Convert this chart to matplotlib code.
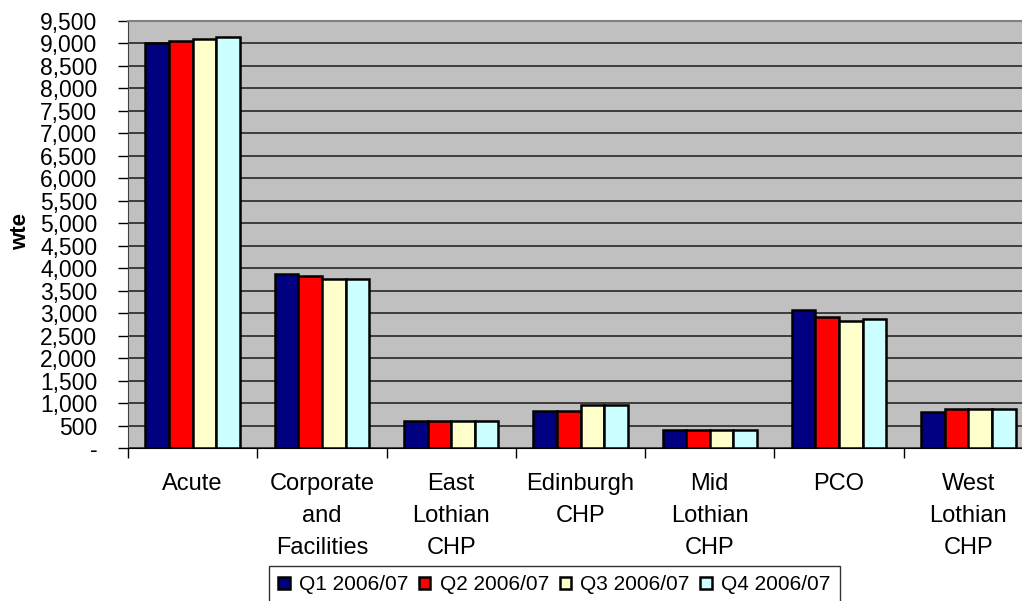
import numpy as np
import matplotlib.pyplot as plt
from matplotlib.ticker import FuncFormatter, MultipleLocator

plt.rcParams['font.family'] = ['Liberation Sans', 'DejaVu Sans']

# data (wte)
categories = ['Acute', 'Corporate\nand\nFacilities', 'East\nLothian\nCHP', 'Edinburgh\nCHP',
              'Mid\nLothian\nCHP', 'PCO', 'West\nLothian\nCHP']
q1 = [9010, 3880, 600, 830, 400, 3060, 790]
q2 = [9055, 3830, 600, 825, 400, 2920, 870]
q3 = [9100, 3770, 600, 965, 400, 2820, 870]
q4 = [9150, 3770, 600, 965, 400, 2870, 870]
series_names = ['Q1 2006/07', 'Q2 2006/07', 'Q3 2006/07', 'Q4 2006/07']
colors = ['#000080', '#FF0000', '#FFFFCC', '#CCFFFF']

fig = plt.figure(figsize=(10.22, 6.01), dpi=100)
ax = fig.add_axes([128/1022, 1 - 448/601, (1033-128)/1022, (448-21)/601])
ax.set_facecolor('#C0C0C0')

x = np.arange(len(categories))
bw = 0.1825
handles = []
for i, vals in enumerate([q1, q2, q3, q4]):
    b = ax.bar(x + (i - 1.5) * bw, vals, bw, color=colors[i], edgecolor='black',
               linewidth=1.8, zorder=3, label=series_names[i])
    handles.append(b)

ax.set_ylim(0, 9500)
ax.set_xlim(-0.5, len(categories) - 0.5)
ax.yaxis.set_major_locator(MultipleLocator(500))
ax.yaxis.set_major_formatter(FuncFormatter(lambda v, p: '-' if v == 0 else '{:,.0f}'.format(v)))
ax.grid(axis='y', color='#1a1a1a', linewidth=1.1, zorder=1)

ax.set_xticks(x)
ax.set_xticklabels(categories, fontsize=17, linespacing=1.6)
ax.set_xticks(np.arange(len(categories) + 1) - 0.5, minor=True)
ax.tick_params(axis='x', which='major', length=0, pad=18)
ax.tick_params(axis='x', which='minor', length=7, width=1, direction='out', color='black')
ax.tick_params(axis='y', length=7, width=1, direction='out', pad=15, labelsize=16.5)

ax.spines['top'].set_color('#808080')
ax.spines['top'].set_linewidth(1.5)
ax.spines['right'].set_visible(False)
ax.spines['left'].set_color('#404040')
ax.spines['bottom'].set_color('black')

fig.text(21/1022, 1 - 232/601, 'wte', rotation=90, fontsize=16, fontweight='bold',
         ha='center', va='center')

leg = fig.legend(handles=handles, loc='upper left', bbox_to_anchor=(269/1022, 1 - 566/601),
                 ncol=4, fontsize=15, frameon=True, fancybox=False, edgecolor='black',
                 handlelength=0.55, handleheight=0.55, handletextpad=0.45,
                 columnspacing=0.5, borderpad=0.45, borderaxespad=0)
leg.get_frame().set_linewidth(1)

fig.savefig('out.png', dpi=100)
